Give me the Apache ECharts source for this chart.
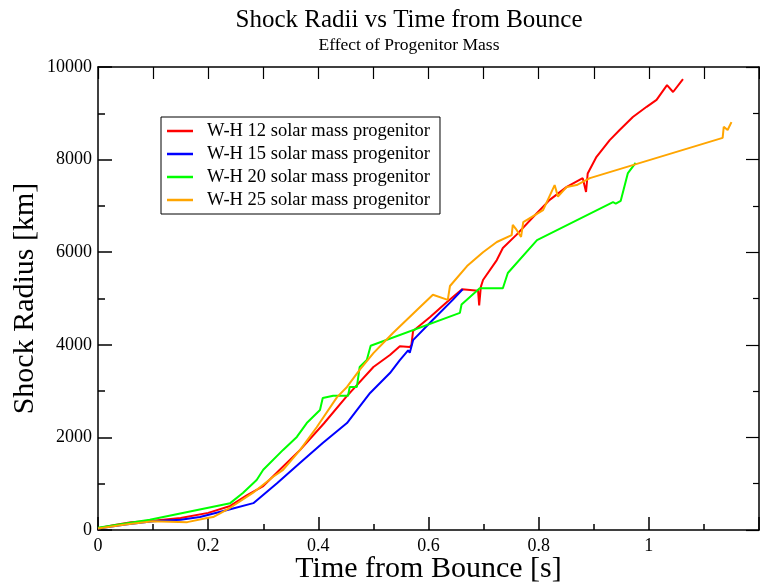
<!DOCTYPE html>
<html><head><meta charset="utf-8">
<script src="https://cdn.jsdelivr.net/npm/echarts@6/dist/echarts.min.js"></script>
<style>html,body{margin:0;padding:0;background:#fff}#c{width:760px;height:587px}</style>
</head><body><div id="c"></div>
<script>
var seriesNames = ['W-H 12 solar mass progenitor','W-H 15 solar mass progenitor','W-H 20 solar mass progenitor','W-H 25 solar mass progenitor'];
var red12 = [[0,40],[0.03,110],[0.06,170],[0.1,200],[0.15,260],[0.2,370],[0.24,520],[0.27,750],[0.3,950],[0.33,1300],[0.367,1730],[0.41,2300],[0.451,2880],[0.5,3520],[0.53,3780],[0.548,3970],[0.566,3950],[0.569,4000],[0.572,4300],[0.603,4600],[0.633,4920],[0.661,5200],[0.69,5170],[0.692,4850],[0.695,5250],[0.699,5400],[0.724,5830],[0.735,6090],[0.76,6380],[0.79,6760],[0.82,7130],[0.851,7410],[0.88,7600],[0.886,7300],[0.889,7700],[0.905,8060],[0.929,8420],[0.947,8640],[0.971,8920],[0.996,9140],[1.014,9290],[1.033,9610],[1.044,9460],[1.062,9740]];
var blue15 = [[0,30],[0.05,120],[0.1,190],[0.15,220],[0.185,280],[0.24,450],[0.282,580],[0.325,1010],[0.367,1450],[0.408,1880],[0.452,2310],[0.47,2590],[0.494,2960],[0.53,3390],[0.548,3670],[0.563,3880],[0.566,3830],[0.572,4100],[0.608,4540],[0.644,4970],[0.662,5200]];
var green20 = [[0,50],[0.094,220],[0.24,580],[0.263,800],[0.288,1080],[0.3,1300],[0.336,1730],[0.361,2010],[0.379,2310],[0.403,2590],[0.408,2850],[0.427,2900],[0.454,2900],[0.457,3090],[0.47,3090],[0.475,3520],[0.488,3670],[0.495,3980],[0.657,4690],[0.66,4870],[0.693,5220],[0.735,5220],[0.744,5550],[0.797,6260],[0.935,7080],[0.94,7050],[0.949,7110],[0.962,7710],[0.976,7930]];
var orange25 = [[0,30],[0.05,120],[0.1,190],[0.162,170],[0.198,260],[0.209,280],[0.24,480],[0.281,800],[0.318,1150],[0.336,1300],[0.367,1730],[0.397,2220],[0.434,2870],[0.452,3090],[0.475,3460],[0.5,3820],[0.535,4250],[0.579,4750],[0.608,5080],[0.635,4970],[0.639,5270],[0.67,5700],[0.699,6000],[0.724,6220],[0.751,6370],[0.753,6590],[0.76,6480],[0.768,6330],[0.772,6650],[0.808,6910],[0.829,7450],[0.835,7200],[0.851,7410],[0.869,7450],[0.893,7600],[1.134,8470],[1.136,8710],[1.143,8640],[1.15,8810]];
var colors = ['#ff0000','#0000ff','#00ff00','#ffa500'];
var xTicks = {min:0, max:1.2, interval:0.2};
var yTicks = {min:0, max:10000, interval:2000};

var F = '"Liberation Serif","DejaVu Serif",serif';
var chart = echarts.init(document.getElementById('c'), null, {renderer:'canvas'});
var datasets = [red12, blue15, green20, orange25];
var axisLine = {show:true, onZero:false, lineStyle:{color:'#000', width:1.5}};
chart.setOption({
  animation:false,
  backgroundColor:'#fff',
  title:{text:'Shock Radii vs Time from Bounce', subtext:'Effect of Progenitor Mass', left:404, top:3, textAlign:'center', itemGap:3,
    textStyle:{fontFamily:F, fontSize:25, fontWeight:'normal', color:'#000'},
    subtextStyle:{fontFamily:F, fontSize:17.5, color:'#000'}},
  legend:{orient:'vertical', left:161, top:117, data:seriesNames, icon:'rect', itemWidth:26, itemHeight:2.5, itemGap:3,
    padding:[4,10,4,6], borderColor:'#000', borderWidth:1, backgroundColor:'#fff',
    textStyle:{fontFamily:F, fontSize:18.5, color:'#000', lineHeight:20, padding:[0,0,0,9]}},
  grid:{left:98, right:1, top:67, bottom:57, containLabel:false, outerBoundsMode:'none'},
  xAxis:[{type:'value', min:xTicks.min, max:xTicks.max, interval:xTicks.interval, position:'bottom',
    name:'Time from Bounce [s]', nameLocation:'middle', nameGap:24, nameMoveOverlap:false,
    nameTextStyle:{fontFamily:F, fontSize:30, color:'#000', verticalAlign:'top'},
    axisLine:axisLine, axisTick:{show:true, inside:true, length:13, lineStyle:{color:'#000', width:1.5}},
    minorTick:{show:true, splitNumber:2, length:6, lineStyle:{color:'#000', width:1.5}},
    splitLine:{show:false}, minorSplitLine:{show:false},
    axisLabel:{fontFamily:F, fontSize:18, color:'#000', margin:7, showMaxLabel:false, formatter:function(v){return String(+v.toFixed(2));}}},
   {type:'value', min:xTicks.min, max:xTicks.max, interval:0.1, position:'top',
    axisLine:axisLine, axisTick:{show:true, inside:true, length:12, lineStyle:{color:'#000', width:1.2}},
    splitLine:{show:false}, axisLabel:{show:false}}],
  yAxis:[{type:'value', min:yTicks.min, max:yTicks.max, interval:yTicks.interval, position:'left',
    name:'Shock Radius [km]', nameLocation:'middle', nameGap:58, nameRotate:90, nameMoveOverlap:false,
    nameTextStyle:{fontFamily:F, fontSize:30, color:'#000'},
    axisLine:axisLine, axisTick:{show:true, inside:true, length:14, lineStyle:{color:'#000', width:1.5}},
    minorTick:{show:true, splitNumber:2, length:7, lineStyle:{color:'#000', width:1.5}},
    splitLine:{show:false}, minorSplitLine:{show:false},
    axisLabel:{fontFamily:F, fontSize:18, color:'#000', margin:6, formatter:function(v){return String(v);}}},
   {type:'value', min:yTicks.min, max:yTicks.max, interval:yTicks.interval, position:'right',
    axisLine:axisLine, axisTick:{show:true, inside:true, length:13, lineStyle:{color:'#000', width:1.2}},
    minorTick:{show:true, splitNumber:2, length:6, lineStyle:{color:'#000', width:1.2}},
    splitLine:{show:false}, axisLabel:{show:false}}],
  series: datasets.map(function(d,i){ return {
    name:seriesNames[i], type:'line', data:d, xAxisIndex:0, yAxisIndex:0,
    showSymbol:false, symbol:'none', lineStyle:{color:colors[i], width:2}, itemStyle:{color:colors[i]}, z:2+i
  };})
});
</script></body></html>
